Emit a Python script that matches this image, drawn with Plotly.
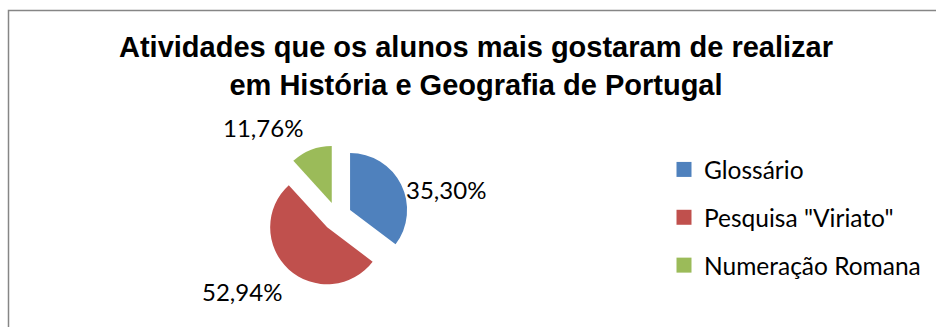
import plotly.graph_objects as go

# Survey results: favourite activities
categories = ["Glossário", 'Pesquisa "Viriato"', "Numeração Romana"]
shares = [35.30, 52.94, 11.76]
colors = ["#4F81BD", "#C0504D", "#9BBB59"]

W, H = 936, 327
LABEL_FONT = "Lato"


def px_x(x):
    return x / W


def px_y(y):
    return 1 - y / H


def pct(v):
    return f"{v:.2f}".replace(".", ",") + "%"


fig = go.Figure()

# Exploded pie, starting at 12 o'clock and running clockwise
cx, cy, half = 337, 216.5, 71.6
fig.add_trace(go.Pie(
    labels=categories,
    values=shares,
    sort=False,
    direction="clockwise",
    rotation=0,
    pull=[0.256] * len(shares),
    marker=dict(colors=colors, line=dict(width=0)),
    textinfo="none",
    showlegend=False,
    domain=dict(x=[px_x(cx - half), px_x(cx + half)],
                y=[px_y(cy + half), px_y(cy - half)]),
))

# Legend entries (one group each so they can be spaced apart)
for name, col in zip(categories, colors):
    fig.add_trace(go.Scatter(
        x=[None], y=[None], mode="markers", name=name,
        legendgroup=name,
        marker=dict(symbol="square", size=15, color=col),
    ))

# Percentage labels placed beside each slice
label_pos = [(445.5, 189), (241.5, 291), (262.5, 127)]
for v, (lx, ly) in zip(shares, label_pos):
    fig.add_annotation(
        x=px_x(lx), y=px_y(ly), xref="paper", yref="paper",
        text=pct(v), showarrow=False, xanchor="center", yanchor="middle",
        font=dict(family=LABEL_FONT, size=24, color="#000000"),
    )

# Chart frame
fig.add_shape(type="rect", xref="paper", yref="paper",
              x0=px_x(8.5), x1=1.05, y0=-0.05, y1=px_y(10.5),
              line=dict(color="#868686", width=1.5), fillcolor="rgba(0,0,0,0)")

fig.update_layout(
    width=W, height=H,
    margin=dict(l=0, r=0, t=0, b=0),
    paper_bgcolor="white",
    plot_bgcolor="white",
    title=dict(
        text="Atividades que os alunos mais gostaram de realizar<br>em História e Geografia de Portugal",
        x=px_x(476), xanchor="center",
        y=px_y(57), yanchor="top",
        font=dict(family="Liberation Sans", size=29, color="#000000", weight="bold"),
    ),
    xaxis=dict(visible=False),
    yaxis=dict(visible=False),
    legend=dict(
        x=px_x(664), y=px_y(147), xanchor="left", yanchor="top",
        traceorder="grouped", tracegroupgap=13,
        itemsizing="trace",
        font=dict(family=LABEL_FONT, size=24.5, color="#000000"),
        bgcolor="rgba(0,0,0,0)",
    ),
)

fig.write_html("out.html")
